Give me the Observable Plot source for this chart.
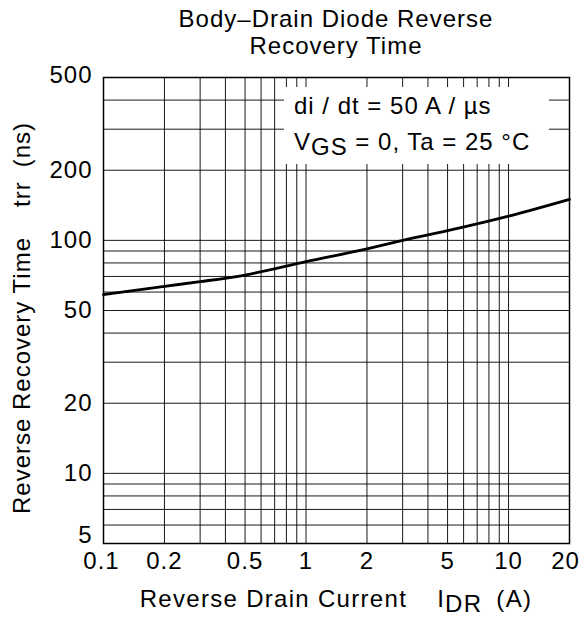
<!DOCTYPE html>
<html><head><meta charset="utf-8">
<script src="https://cdn.jsdelivr.net/npm/d3@7"></script>
<script src="https://cdn.jsdelivr.net/npm/@observablehq/plot@0.6"></script>
<style>
body{margin:0;background:#fff;font-family:"Liberation Sans",Arial,sans-serif;color:#000}
#wrap{position:relative;width:582px;height:620px;overflow:hidden}
#title{position:absolute;left:90px;width:492px;top:5px;text-align:center;font-size:24px;line-height:27px;letter-spacing:1px}
#chart{position:absolute;left:0;top:58px}
#legend{position:absolute;left:284px;top:87px;width:265px;height:77px;background:#fff;font-size:24px;letter-spacing:1px}
#legend div{position:absolute;left:10px;white-space:nowrap}
.sub{position:relative;top:5px}
#xlabel{position:absolute;left:103px;width:466px;top:585px;text-align:center;font-size:24px;letter-spacing:1.3px;white-space:nowrap}
#ylabel{position:absolute;left:22px;top:318px;transform:translate(-50%,-50%) rotate(-90deg);font-size:24px;letter-spacing:1px;white-space:nowrap}
.gap1{display:inline-block;width:30px}
.gap2{display:inline-block;width:14px}
</style>
</head><body>
<div id="wrap">
  <div id="title">Body–Drain Diode Reverse<br>Recovery Time</div>
  <div id="chart"></div>
  <div id="legend">
    <div style="top:5px">di / dt = 50 A / µs</div>
    <div style="top:41px">V<span class="sub">GS</span> = 0, Ta = 25 °C</div>
  </div>
  <div id="xlabel">Reverse Drain Current<span class="gap1"></span>I<span class="sub">DR</span><span class="gap2"></span>(A)</div>
  <div id="ylabel">Reverse Recovery Time<span class="gap1"></span>trr<span class="gap2"></span>(ns)</div>
</div>
<script>
const current = [0.1, 0.2, 0.3, 0.5, 1, 2, 3, 5, 10, 20];
const trr = [58.5, 63.5, 66.5, 71, 81, 92, 100, 110, 127, 150];
const xTicks = [0.1, 0.2, 0.5, 1, 2, 5, 10, 20];
const yTicks = [5, 10, 20, 50, 100, 200, 500];
const xGrid = [0.2, 0.3, 0.4, 0.5, 0.6, 0.7, 0.8, 0.9, 1, 2, 3, 4, 5, 6, 7, 8, 9, 10];
const yGrid = [6, 7, 8, 9, 10, 20, 30, 40, 50, 60, 70, 80, 90, 100, 200, 300, 400];

const data = current.map((c, i) => ({x: c, y: trr[i]}));
const fmt = d => String(d);
const font = {fontSize: 24, fontFamily: "Liberation Sans, Arial, sans-serif", fill: "#000"};

const chart = Plot.plot({
  width: 582,
  height: 562,
  marginTop: 19,
  marginBottom: 77,
  marginLeft: 103,
  marginRight: 13,
  style: {fontFamily: "Liberation Sans, Arial, sans-serif", fontSize: "24px", letterSpacing: "1px", color: "#000", background: "#fff", overflow: "visible"},
  x: {type: "log", domain: [0.1, 20], axis: null},
  y: {type: "log", domain: [5, 500], axis: null},
  marks: [
    Plot.ruleX(xGrid, {stroke: "#000", strokeWidth: 1, strokeOpacity: 0.9}),
    Plot.ruleY(yGrid, {stroke: "#000", strokeWidth: 1, strokeOpacity: 0.9}),
    Plot.line(data, {x: "x", y: "y", curve: "monotone-x", stroke: "#000", strokeWidth: 2.8}),
    Plot.frame({stroke: "#000", strokeWidth: 1.5}),
    Plot.text(xTicks.slice(1, -1), {x: d => d, text: fmt, frameAnchor: "bottom", dy: 25, ...font}),
    Plot.text([0.1], {x: d => d, text: fmt, frameAnchor: "bottom", dy: 25, dx: -2, ...font}),
    Plot.text([20], {x: d => d, text: fmt, frameAnchor: "bottom", dy: 25, dx: -4, ...font}),
    Plot.text(yTicks.filter(d => d !== 5 && d !== 500), {y: d => d, text: fmt, frameAnchor: "left", textAnchor: "end", dx: -11, ...font}),
    Plot.text([500], {y: d => d, text: fmt, frameAnchor: "left", textAnchor: "end", dx: -11, dy: -2, ...font}),
    Plot.text([5], {y: d => d, text: fmt, frameAnchor: "left", textAnchor: "end", dx: -11, dy: -8, ...font})
  ]
});
document.getElementById("chart").appendChild(chart);
</script>
</body></html>
